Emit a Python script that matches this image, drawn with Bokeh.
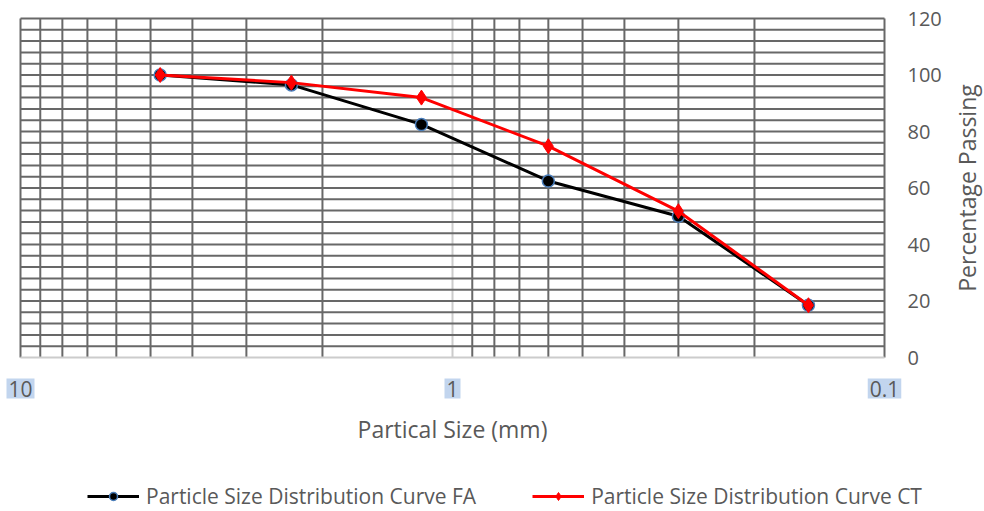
import math
from bokeh.plotting import figure
from bokeh.models import Range1d, Label, Legend, LegendItem
from bokeh.core.properties import value
from bokeh.embed import file_html
from bokeh.resources import INLINE

# ---------------- data ----------------
sizes = [4.75, 2.36, 1.18, 0.6, 0.3, 0.15]
fa = [100, 96.5, 82.5, 62.5, 50, 18.5]
ct = [100, 97.3, 92, 74.8, 51.8, 18.5]
x_tick_values = [10, 1, 0.1]
x_tick_labels = ["10", "1", "0.1"]
y_ticks = [0, 20, 40, 60, 80, 100, 120]
y_tick_labels = ["0", "20", "40", "60", "80", "100", "120"]
grid_x = [10, 9, 8, 7, 6, 5, 4, 3, 2, 0.9, 0.8, 0.7, 0.6, 0.5, 0.4, 0.3, 0.2, 0.1]
grid_y = list(range(4, 121, 4))

# ---------------- layout (pixels) ----------------
W, H = 984, 511
PL, PR, PT, PB = 20, 884, 18, 357      # plot box inside the canvas
X_MAX, X_MIN = 10.0, 0.1               # plotted x domain (reversed log)
Y_MIN, Y_MAX = 0.0, 120.0

decades = math.log10(X_MAX / X_MIN)
px_per_dec = (PR - PL) / decades
x_left = X_MAX * 10 ** (PL / px_per_dec)
x_right = X_MIN / 10 ** ((W - PR) / px_per_dec)
u_per_px = (Y_MAX - Y_MIN) / (PB - PT)
y_top = Y_MAX + PT * u_per_px
y_bottom = Y_MIN - (H - PB) * u_per_px

FONT = "Open Sans"
TXT = "#595959"
GRID = "#686868"
LIGHT = "#cccccc"

p = figure(width=W, height=H, x_axis_type="log",
           x_range=Range1d(x_left, x_right), y_range=Range1d(y_bottom, y_top),
           output_backend="svg", toolbar_location=None, min_border=0)
p.axis.visible = False
p.grid.visible = False
p.outline_line_color = None
p.background_fill_color = "white"
p.border_fill_color = "white"

# grid lines inside the plot box
dark_x = [g for g in grid_x if g != 1]
p.segment(x0=dark_x, x1=dark_x, y0=[Y_MIN] * len(dark_x), y1=[Y_MAX] * len(dark_x),
          line_color=GRID, line_width=2)
p.segment(x0=[1], x1=[1], y0=[Y_MIN], y1=[Y_MAX], line_color=LIGHT, line_width=2)
p.segment(x0=[X_MAX] * len(grid_y), x1=[X_MIN] * len(grid_y), y0=grid_y, y1=grid_y,
          line_color=GRID, line_width=2)
p.segment(x0=[X_MAX], x1=[X_MIN], y0=[Y_MIN], y1=[Y_MIN], line_color=LIGHT, line_width=2)

# right-hand value axis labels
p.text(x=[X_MIN] * len(y_ticks), y=y_ticks, text=y_tick_labels, x_offset=23,
       text_align="left", text_baseline="middle", text_font=value(FONT),
       text_font_size="20px", text_color=TXT)

# bottom size labels (highlighted)
for v, t in zip(x_tick_values, x_tick_labels):
    p.add_layout(Label(x=v, y=H - 388, y_units="screen", text=t,
                       text_align="center", text_baseline="middle",
                       text_font=FONT, text_font_size="21px", text_color=TXT,
                       background_fill_color="#c2d5ee", padding=2))

# axis titles
p.add_layout(Label(x=1, y=H - 428, y_units="screen", text="Partical Size (mm)",
                   text_align="center", text_baseline="middle",
                   text_font=FONT, text_font_size="23px", text_color=TXT))
p.add_layout(Label(x=966, x_units="screen", y=(Y_MIN + Y_MAX) / 2,
                   text="Percentage Passing", angle=math.pi / 2,
                   text_align="center", text_baseline="middle",
                   text_font=FONT, text_font_size="23px", text_color=TXT))

# series
fa_line = p.line(sizes, fa, line_color="black", line_width=3)
fa_pts = p.scatter(sizes, fa, marker="circle", size=12, fill_color="black",
                   line_color="#4a7ebb", line_width=1.5)
ct_line = p.line(sizes, ct, line_color="#ff0000", line_width=3)
ct_pts = p.scatter(sizes, ct, marker="diamond", size=15, fill_color="#ff0000",
                   line_color="#ff0000")

legend = Legend(items=[
    LegendItem(label="Particle Size Distribution Curve FA", renderers=[fa_line, fa_pts]),
    LegendItem(label="Particle Size Distribution Curve CT", renderers=[ct_line, ct_pts]),
], location=(87, 1), orientation="horizontal", glyph_width=52, glyph_height=20,
    label_standoff=7, spacing=56, padding=0, margin=0,
    border_line_color=None, background_fill_alpha=0,
    label_text_font=FONT, label_text_font_size="21px", label_text_color=TXT)
p.add_layout(legend)

open("out.html", "w").write(file_html(p, INLINE))
